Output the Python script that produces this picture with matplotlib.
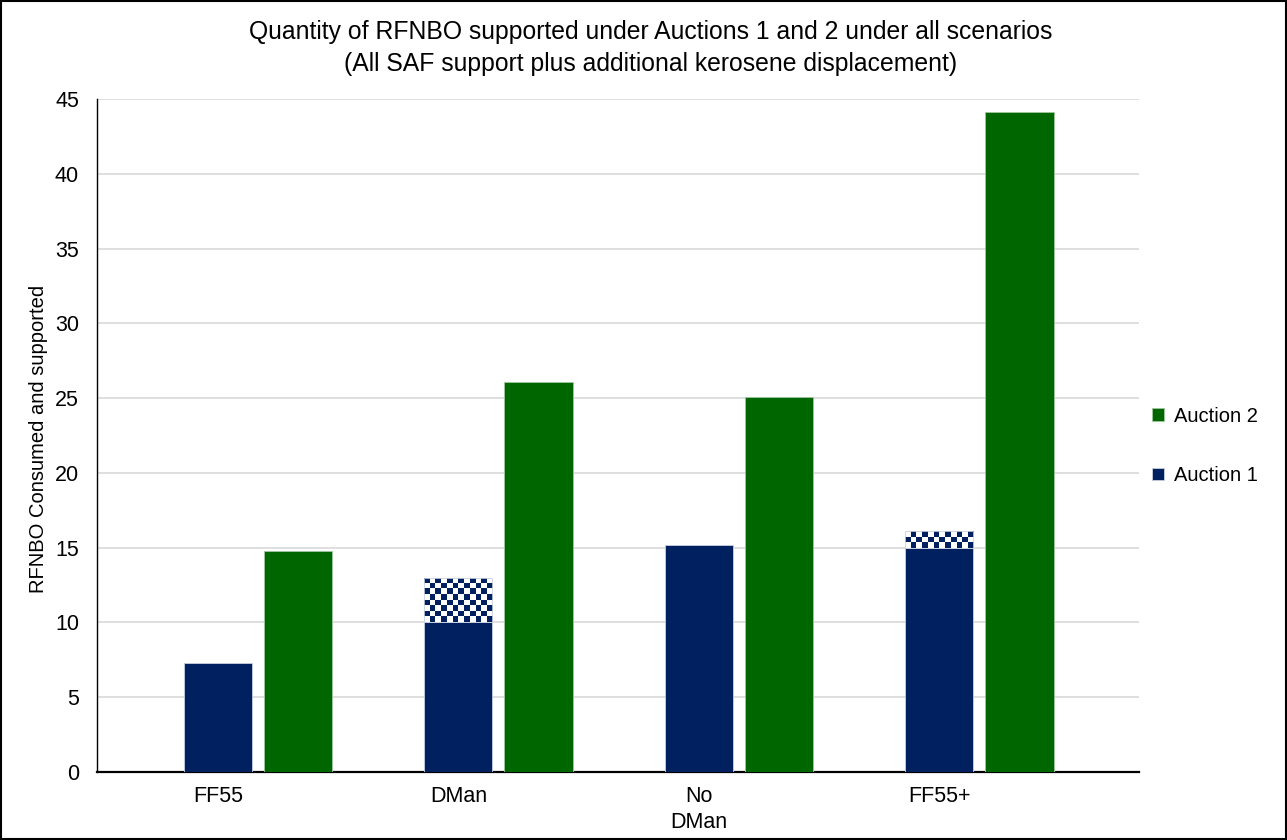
import matplotlib
matplotlib.use("Agg")
import matplotlib.pyplot as plt
import numpy as np
from matplotlib.patches import Rectangle

plt.rcParams['font.family'] = ['Liberation Sans', 'DejaVu Sans']

categories = ["FF55", "DMan", "No\nDMan", "FF55+"]
auction1 = [7.3, 10.0, 15.2, 15.0]
auction1_extra = [0.0, 3.0, 0.0, 1.1]   # checkered additional kerosene displacement
auction2 = [14.8, 26.1, 25.1, 44.1]
yticks = list(range(0, 50, 5))

BLUE = "#002060"
GREEN = "#006600"

fig = plt.figure(figsize=(12.87, 8.40), dpi=100)
ax = fig.add_axes([97/1287, 68/840, (1139-97)/1287, (772-99)/840])

x = np.arange(len(categories))
w = 0.283
off = 0.333
ax.set_xlim(-0.503, 3.83)
ax.set_ylim(0, 45)

ax.bar(x, auction1, width=w, color=BLUE, edgecolor="#c8d0e0", linewidth=0.6, zorder=3, label="Auction 1")
ax.bar(x + off, auction2, width=w, color=GREEN, edgecolor="#9fc89f", linewidth=0.6, zorder=3, label="Auction 2")

# checkered segments
fig.canvas.draw()
px_per_y = ax.transData.transform((0, 1))[1] - ax.transData.transform((0, 0))[1]
cell_px = 68 / 12.0
for xi, base, ext in zip(x, auction1, auction1_extra):
    if ext <= 0:
        continue
    ncol = 12
    nrow = max(1, int(round(ext * px_per_y / cell_px)))
    img = np.indices((nrow, ncol)).sum(axis=0) % 2
    cmap = matplotlib.colors.ListedColormap(["white", BLUE])
    rect = Rectangle((xi - w/2, base), w, ext, facecolor="none", edgecolor="#c8d0e0",
                     linewidth=0.6, zorder=5)
    ax.add_patch(rect)
    im = ax.imshow(img, cmap=cmap, extent=(xi - w/2, xi + w/2, base + ext, base),
                   origin="upper", interpolation="nearest", aspect="auto", zorder=4)
    im.set_clip_path(rect)
ax.set_xlim(-0.503, 3.83)
ax.set_ylim(0, 45)

ax.set_yticks(yticks)
ax.set_yticklabels([str(t) for t in yticks], fontsize=15.5)
ax.set_xticks(x)
ax.set_xticklabels(categories, fontsize=15.5, linespacing=1.3)
ax.tick_params(axis="both", length=0, colors="black")
ax.tick_params(axis="y", pad=13)
ax.tick_params(axis="x", pad=10)
ax.grid(axis="y", color="#d9d9d9", linewidth=1.2, zorder=0)
ax.set_axisbelow(True)
for s in ["top", "right"]:
    ax.spines[s].set_visible(False)
ax.spines["left"].set_linewidth(1.0)
ax.spines["bottom"].set_linewidth(1.6)

ax.set_ylabel("RFNBO Consumed and supported", fontsize=14.5)
ax.yaxis.set_label_coords((48 - 97) / (1139 - 97), (772 - 439) / (772 - 99))

fig.text(651/1287, 1 - 48/840,
         "Quantity of RFNBO supported under Auctions 1 and 2 under all scenarios\n(All SAF support plus additional kerosene displacement)",
         ha="center", va="center", fontsize=17.8, linespacing=1.4)

h, l = ax.get_legend_handles_labels()
leg = fig.legend([h[1], h[0]], [l[1], l[0]], loc="center left",
                 bbox_to_anchor=(1134/1287, 1 - 446/840), frameon=False, fontsize=14.5,
                 handlelength=0.6, handleheight=0.6, handletextpad=0.5, labelspacing=2.0)

fig.add_artist(Rectangle((0.0008, 0.0012), 0.9984, 0.9976, transform=fig.transFigure,
                         fill=False, edgecolor="black", linewidth=1.5))

fig.savefig("out.png", dpi=100)
